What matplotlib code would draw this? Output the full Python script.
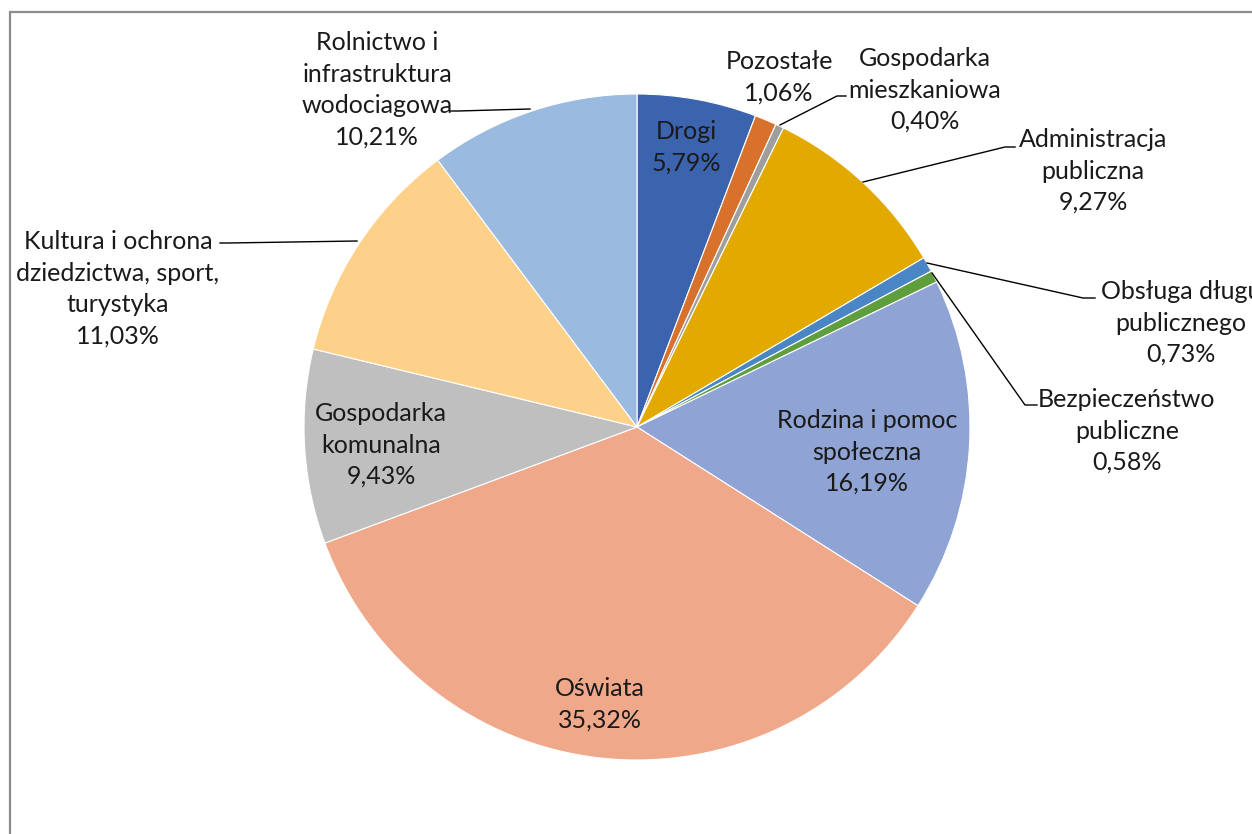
import matplotlib
matplotlib.use("Agg")
import matplotlib.pyplot as plt
from matplotlib.patches import Rectangle

categories = ["Drogi", "Pozostałe", "Gospodarka\nmieszkaniowa", "Administracja\npubliczna",
              "Obsługa długu\npublicznego", "Bezpieczeństwo\npubliczne", "Rodzina i pomoc\nspołeczna",
              "Oświata", "Gospodarka\nkomunalna", "Kultura i ochrona\ndziedzictwa, sport,\nturystyka",
              "Rolnictwo i\ninfrastruktura\nwodociagowa"]
values = [5.79, 1.06, 0.40, 9.27, 0.73, 0.58, 16.19, 35.32, 9.43, 11.03, 10.21]
colors = ["#3C64AE", "#D8712C", "#9E9E9E", "#E2A900", "#4A86C5", "#5F9E3C",
          "#8FA3D5", "#F0A88A", "#BFBFBF", "#FED18A", "#9ABAE0"]

W, H = 1252, 834
fig = plt.figure(figsize=(W / 100, H / 100), dpi=100)
ax = fig.add_axes([0, 0, 1, 1])

def py(y):
    return H - y

cx, cy, r = 637, py(427), 333
ax.pie(values, colors=colors, startangle=90, counterclock=False,
       center=(cx, cy), radius=r, frame=True,
       wedgeprops=dict(edgecolor="white", linewidth=0.8))
ax.set_xlim(0, W)
ax.set_ylim(0, H)
ax.set_aspect("equal")
ax.axis("off")

# frame
fig.patches.append(Rectangle((9.5 / W, -0.1), 2.0, (H - 12) / H + 0.1, transform=fig.transFigure,
                             fill=False, edgecolor="#8C8C8C", linewidth=1.6))

label_pos = [(686, 147), (779, 77), (925, 90), (1093, 171), (1181, 323), (1127, 431),
             (867, 452), (600, 704), (381, 445), (118, 289), (377, 90)]

font = dict(family="Lato", fontsize=18, color="#1A1A1A", ha="center", va="center",
            linespacing=1.45)
for cat, v, (x, y) in zip(categories, values, label_pos):
    txt = f"{cat}\n{v:.2f}%".replace(".", ",")
    ax.text(x, py(y), txt, **font)

leaders = [
    [(780, 125), (837, 96), (846, 96)],
    [(863, 182), (1005, 147), (1015, 147)],
    [(927, 263), (1083, 298), (1095, 298)],
    [(932, 273), (1025, 405), (1037, 405)],
    [(530, 109), (458, 111), (450, 111)],
    [(357, 241), (228, 243), (220, 243)],
]
for pts in leaders:
    xs = [p[0] for p in pts]
    ys = [py(p[1]) for p in pts]
    ax.plot(xs, ys, color="black", linewidth=1.0)

fig.savefig("out.png", dpi=100)
